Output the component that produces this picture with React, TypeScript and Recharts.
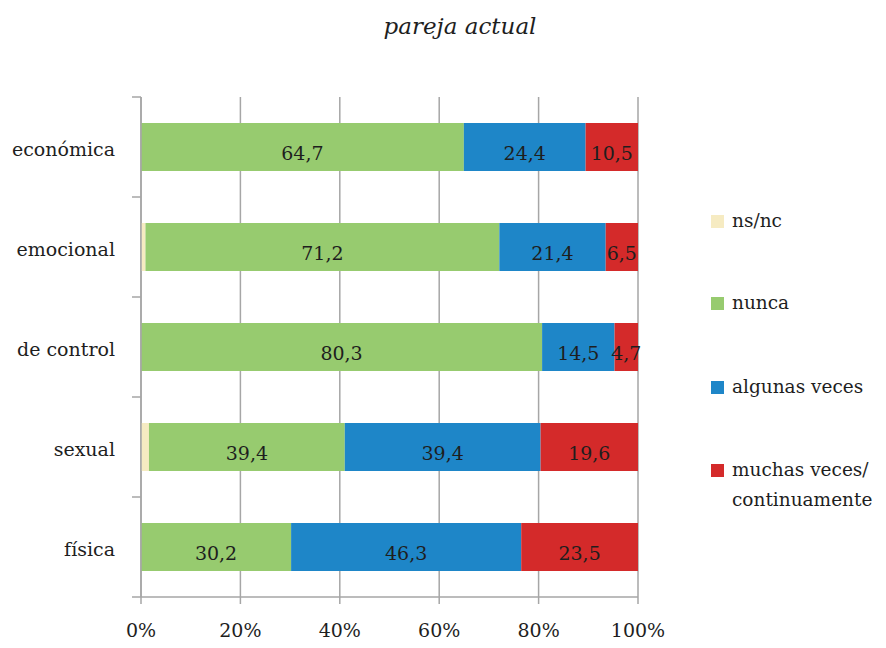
import { BarChart, Bar, XAxis, YAxis, CartesianGrid, LabelList } from "recharts"

const categories = ["económica", "emocional", "de control", "sexual", "física"]
const nsnc = [0, 0.9, 0, 1.6, 0]
const nunca = [64.7, 71.2, 80.3, 39.4, 30.2]
const algunas = [24.4, 21.4, 14.5, 39.4, 46.3]
const muchas = [10.5, 6.5, 4.7, 19.6, 23.5]
const xTicks = [0, 0.2, 0.4, 0.6, 0.8, 1]

const series = [
  { key: "nsnc", label: "ns/nc", color: "#F6EBC2" },
  { key: "nunca", label: "nunca", color: "#97CB6F" },
  { key: "algunas", label: "algunas veces", color: "#1E86C8" },
  { key: "muchas", label: "muchas veces/\ncontinuamente", color: "#D42A2A" },
]

const data = categories.map((name, i) => ({
  name,
  nsnc: nsnc[i],
  nunca: nunca[i],
  algunas: algunas[i],
  muchas: muchas[i],
}))

const FONT = "'DejaVu Serif', Georgia, serif"
const AXIS = "#a6a6a6"
const fmt = (v: number) => (v ? v.toFixed(1).replace(".", ",") : "")

const legendTops = [206, 288, 372, 455]

// category label plus the small tick marks at the band boundaries (Excel style)
function CatTick(props: any) {
  const { x, y, payload, index } = props
  const ax = x + 26
  const half = 50
  return (
    <g>
      <line x1={ax - 9} x2={ax} y1={y - half} y2={y - half} stroke={AXIS} strokeWidth={1.5} />
      {index === categories.length - 1 && (
        <line x1={ax - 9} x2={ax} y1={y + half} y2={y + half} stroke={AXIS} strokeWidth={1.5} />
      )}
      <text x={x} y={y} dy={9} textAnchor="end" fill="#1e1e1e" fontSize={19} fontFamily={FONT}>
        {payload.value}
      </text>
    </g>
  )
}

export default function App() {
  return (
    <div style={{ position: "absolute", left: 0, top: 0, width: 886, height: 648, background: "#fff", fontFamily: FONT }}>
      <div
        style={{
          position: "absolute",
          top: 13,
          left: 0,
          width: 920,
          textAlign: "center",
          fontStyle: "italic",
          fontSize: 23,
          color: "#1e1e1e",
        }}
      >
        pareja actual
      </div>
      <BarChart
        width={886}
        height={648}
        data={data}
        layout="vertical"
        stackOffset="expand"
        margin={{ top: 97, right: 248, bottom: 0, left: 0 }}
        barCategoryGap={26}
      >
        <CartesianGrid horizontal={false} stroke={AXIS} strokeWidth={1.5} />
        <XAxis
          type="number"
          domain={[0, 1]}
          ticks={xTicks}
          tickFormatter={(v: number) => `${Math.round(v * 100)}%`}
          height={51}
          tickSize={7}
          tickMargin={20}
          stroke={AXIS}
          strokeWidth={1.5}
          tick={{ fill: "#1e1e1e", fontSize: 19, fontFamily: FONT }}
        />
        <YAxis
          type="category"
          dataKey="name"
          width={141}
          axisLine={{ stroke: AXIS, strokeWidth: 1.5 }}
          tickLine={false}
          tickSize={0}
          tickMargin={26}
          tick={<CatTick />}
        />
        {series.map((s) => (
          <Bar
            key={s.key}
            dataKey={s.key}
            stackId="a"
            fill={s.color}
            isAnimationActive={false}
          >
            {s.key !== "nsnc" && (
              <LabelList
                dataKey={s.key}
                position="center"
                formatter={(v: number) => fmt(v)}
                style={{ fill: "#1e1e1e", fontSize: 19, fontFamily: FONT }}
                dy={6}
              />
            )}
          </Bar>
        ))}
      </BarChart>
      {series.map((s, i) => (
        <div
          key={s.key}
          style={{
            position: "absolute",
            left: 711,
            top: legendTops[i],
            display: "flex",
            alignItems: "flex-start",
            fontSize: 18.5,
            lineHeight: "30px",
            color: "#1e1e1e",
            whiteSpace: "pre",
          }}
        >
          <span
            style={{
              display: "inline-block",
              width: 13,
              height: 13,
              background: s.color,
              marginTop: 9,
              marginRight: 8,
            }}
          />
          <span>{s.label}</span>
        </div>
      ))}
    </div>
  )
}
